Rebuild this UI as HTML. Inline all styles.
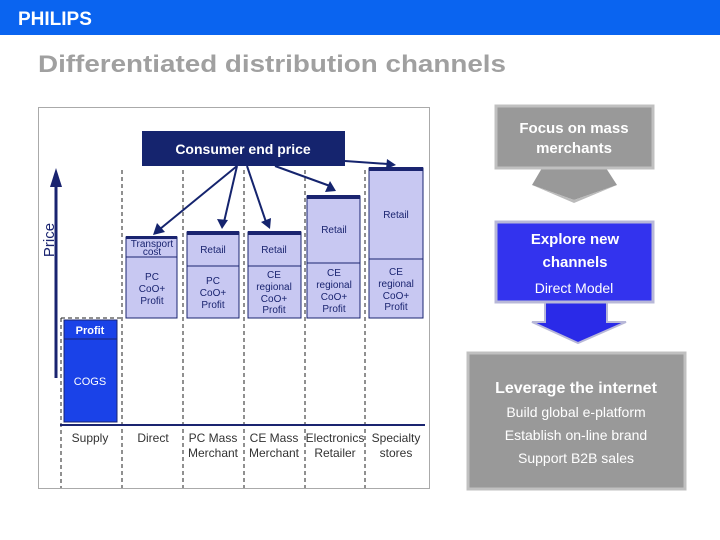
<!DOCTYPE html>
<html><head><meta charset="utf-8"><style>
html,body{margin:0;padding:0;background:#fff;width:720px;height:540px;overflow:hidden}
svg{display:block;font-family:"Liberation Sans",sans-serif}
</style></head><body>
<svg width="720" height="540" viewBox="0 0 720 540">
<rect x="0" y="0" width="720" height="35" fill="#0a64f0"/>
<text x="18" y="25" fill="#fff" font-size="19" font-weight="bold">PHILIPS</text>
<text x="38" y="72" fill="#a0a0a0" font-size="24" font-weight="bold" textLength="468" lengthAdjust="spacingAndGlyphs">Differentiated distribution channels</text>

<rect x="38.5" y="107.5" width="391" height="381" fill="#fff" stroke="#aaa"/>
<g stroke="#222" stroke-dasharray="4,3" stroke-width="1">
<line x1="61" y1="318" x2="61" y2="488"/>
<line x1="61" y1="318" x2="122" y2="318"/>
<line x1="122" y1="170" x2="122" y2="488"/>
<line x1="183" y1="170" x2="183" y2="488"/>
<line x1="244" y1="170" x2="244" y2="488"/>
<line x1="305" y1="170" x2="305" y2="488"/>
<line x1="365" y1="170" x2="365" y2="488"/>
</g>
<line x1="60" y1="425" x2="425" y2="425" stroke="#1a2470" stroke-width="2"/>
<line x1="56" y1="378" x2="56" y2="185" stroke="#1a2470" stroke-width="3"/>
<polygon points="56,168 50,187 62,187" fill="#1a2470"/>
<text transform="translate(54,240) rotate(-90)" text-anchor="middle" font-size="15" fill="#1a2470">Price</text>

<rect x="64" y="320" width="53" height="102" fill="#1a42e8" stroke="#1a2470"/>
<line x1="64" y1="339" x2="117" y2="339" stroke="#1a2470"/>
<text x="90" y="334" text-anchor="middle" fill="#fff" font-size="11" font-weight="bold">Profit</text>
<text x="90" y="385" text-anchor="middle" fill="#fff" font-size="11">COGS</text>

<g fill="#c8c8f2" stroke="#1a2470" stroke-width="1">
<rect x="126" y="237" width="51" height="81"/>
<rect x="187" y="232" width="52" height="86"/>
<rect x="248" y="232" width="53" height="86"/>
<rect x="307" y="196" width="53" height="122"/>
<rect x="369" y="168" width="54" height="150"/>
</g>
<g stroke="#1a2470">
<line x1="126" y1="257" x2="177" y2="257"/>
<line x1="187" y1="266" x2="239" y2="266"/>
<line x1="248" y1="266" x2="301" y2="266"/>
<line x1="307" y1="263" x2="360" y2="263"/>
<line x1="369" y1="259" x2="423" y2="259"/>
</g>
<g fill="#1a2470">
<rect x="126" y="236" width="51" height="3"/>
<rect x="187" y="231" width="52" height="4"/>
<rect x="248" y="231" width="53" height="4"/>
<rect x="307" y="195" width="53" height="4"/>
<rect x="369" y="167" width="54" height="4"/>
</g>
<g font-size="10" fill="#1a2470" text-anchor="middle">
<text x="152" y="247">Transport</text><text x="152" y="255">cost</text>
<text x="152" y="280">PC</text><text x="152" y="292">CoO+</text><text x="152" y="304">Profit</text>
<text x="213" y="253">Retail</text>
<text x="213" y="284">PC</text><text x="213" y="296">CoO+</text><text x="213" y="308">Profit</text>
<text x="274" y="253">Retail</text>
<text x="274" y="278">CE</text><text x="274" y="290">regional</text><text x="274" y="302">CoO+</text><text x="274" y="313">Profit</text>
<text x="334" y="233">Retail</text>
<text x="334" y="276">CE</text><text x="334" y="288">regional</text><text x="334" y="300">CoO+</text><text x="334" y="312">Profit</text>
<text x="396" y="218">Retail</text>
<text x="396" y="275">CE</text><text x="396" y="287">regional</text><text x="396" y="299">CoO+</text><text x="396" y="310">Profit</text>
</g>

<rect x="142" y="131" width="203" height="35" fill="#15246e"/>
<text x="243" y="154" text-anchor="middle" fill="#fff" font-size="14" font-weight="bold">Consumer end price</text>
<g stroke="#15246e" stroke-width="2" fill="none">
<line x1="237" y1="166" x2="160" y2="229"/>
<line x1="237" y1="166" x2="224" y2="222"/>
<line x1="247" y1="166" x2="266" y2="222"/>
<line x1="275" y1="166" x2="330" y2="186"/>
<line x1="345" y1="161" x2="388" y2="164"/>
</g>
<g fill="#15246e">
<polygon points="153,235 157,223 165,232"/>
<polygon points="222,229 217,219 228,220"/>
<polygon points="270,229 261,222 271,218"/>
<polygon points="336,191 325,192 330,181"/>
<polygon points="396,165 386,169 387,159"/>
</g>

<g font-size="12" fill="#333" text-anchor="middle">
<text x="90" y="442">Supply</text>
<text x="153" y="442">Direct</text>
<text x="213" y="442">PC Mass</text><text x="213" y="457">Merchant</text>
<text x="274" y="442">CE Mass</text><text x="274" y="457">Merchant</text>
<text x="335" y="442">Electronics</text><text x="335" y="457">Retailer</text>
<text x="396" y="442">Specialty</text><text x="396" y="457">stores</text>
</g>

<polygon points="542,168 606,168 617,185 574,200 532,185" fill="#999"/>
<polygon points="532,185 574,200 617,185 574,203" fill="#bbb"/>
<rect x="496" y="106" width="157" height="62" fill="#999" stroke="#c0c0c0" stroke-width="3"/>
<text x="574" y="133" text-anchor="middle" fill="#fff" font-size="15" font-weight="bold">Focus on mass</text>
<text x="574" y="153" text-anchor="middle" fill="#fff" font-size="15" font-weight="bold">merchants</text>

<polygon points="545,302 607,302 607,322 626,322 578,343 532,322 545,322" fill="#2a2ae8" stroke="#b8b8d8" stroke-width="2"/>
<rect x="496" y="222" width="157" height="80" fill="#3333ee" stroke="#b8b8d8" stroke-width="3"/>
<text x="575" y="244" text-anchor="middle" fill="#fff" font-size="15" font-weight="bold">Explore new</text>
<text x="575" y="267" text-anchor="middle" fill="#fff" font-size="15" font-weight="bold">channels</text>
<text x="574" y="293" text-anchor="middle" fill="#fff" font-size="14">Direct Model</text>

<rect x="468" y="353" width="217" height="136" fill="#999" stroke="#c0c0c0" stroke-width="3"/>
<text x="576" y="393" text-anchor="middle" fill="#fff" font-size="16" font-weight="bold">Leverage the internet</text>
<g fill="#fff" font-size="14" text-anchor="middle">
<text x="576" y="417">Build global e-platform</text>
<text x="576" y="440">Establish on-line brand</text>
<text x="576" y="463">Support B2B sales</text>
</g>
</svg>
</body></html>
